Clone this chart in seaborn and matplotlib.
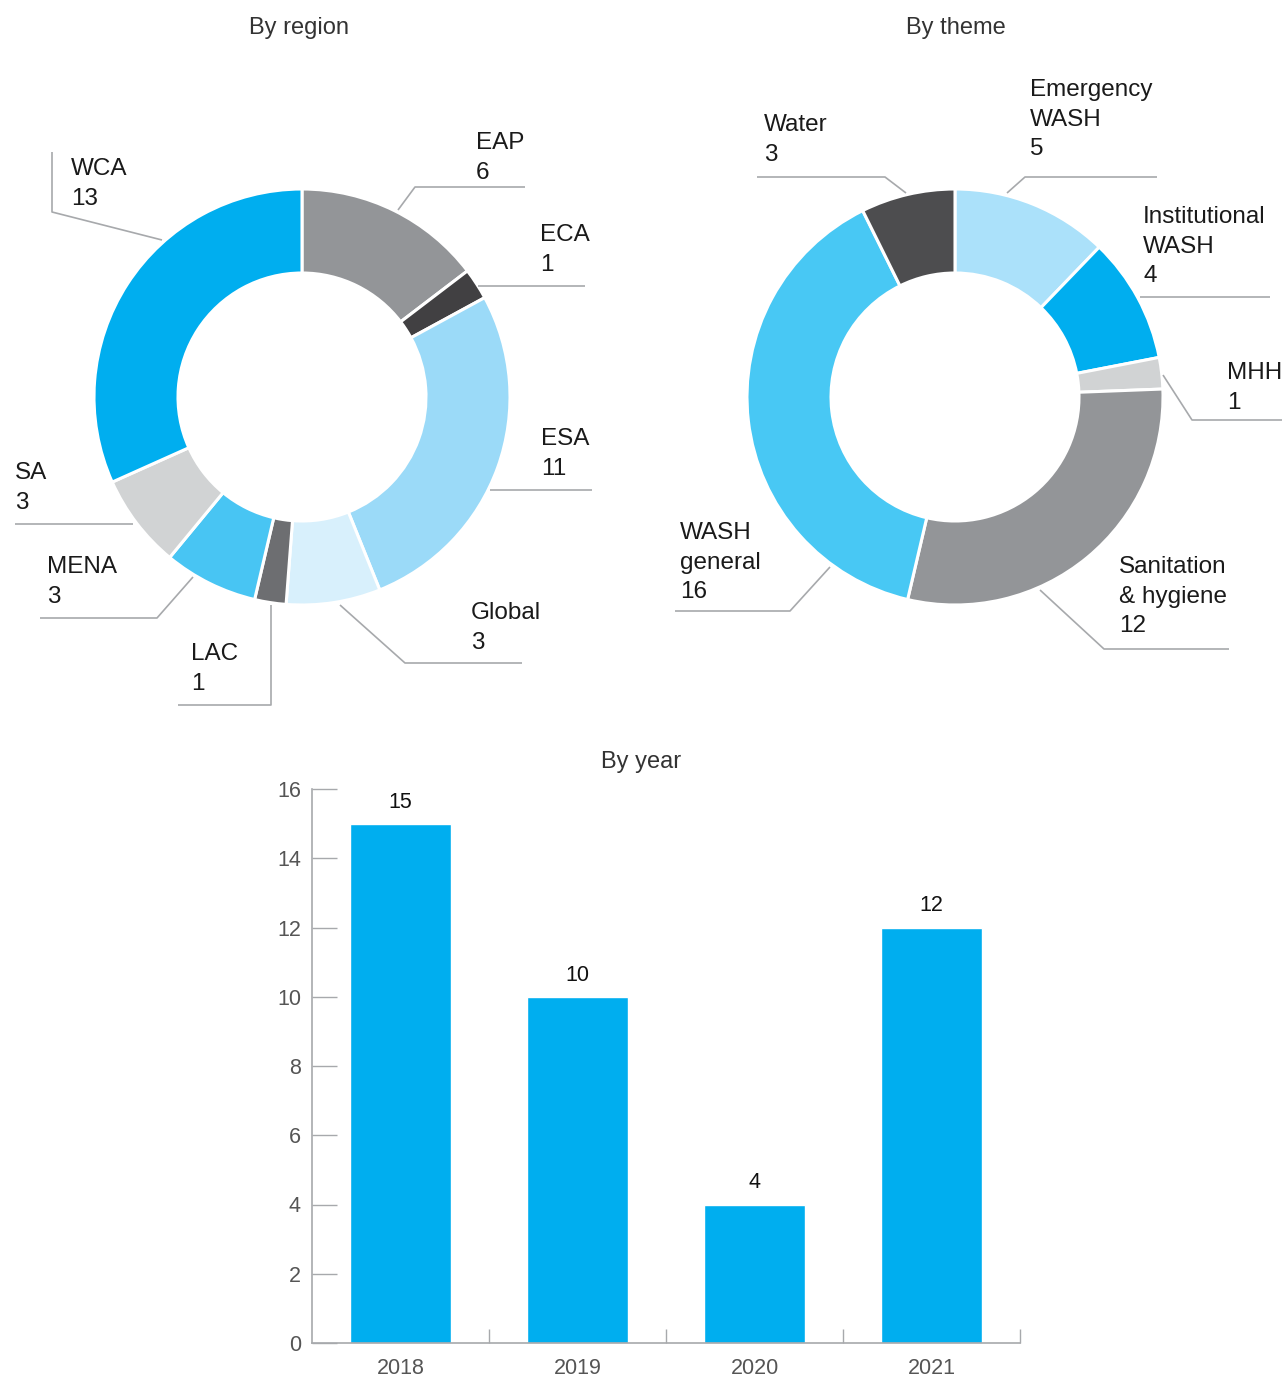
import numpy as np
import pandas as pd
import matplotlib
matplotlib.use("Agg")
import matplotlib.pyplot as plt
import seaborn as sns

# data
region_names = ["EAP", "ECA", "ESA", "Global", "LAC", "MENA", "SA", "WCA"]
region_counts = [6, 1, 11, 3, 1, 3, 3, 13]
region_colors = ["#939598", "#414042", "#9bdaf8", "#d8f0fc", "#6d6e71", "#48c5f3", "#d1d3d4", "#00aeef"]

theme_names = [["Emergency", "WASH"], ["Institutional", "WASH"], ["MHH"],
               ["Sanitation", "& hygiene"], ["WASH", "general"], ["Water"]]
theme_counts = [5, 4, 1, 12, 16, 3]
theme_colors = ["#abe1fa", "#00aeef", "#d1d3d4", "#939598", "#48c8f4", "#4d4d4f"]

years = ["2018", "2019", "2020", "2021"]
year_counts = [15, 10, 4, 12]

W, H = 1284, 1382
LINE = "#a7a9ac"

sns.set_theme(style="white")
plt.rcParams['font.family'] = ['Liberation Sans', 'DejaVu Sans']

fig = plt.figure(figsize=(W / 100, H / 100), dpi=100)
ax = fig.add_axes([0, 0, 1, 1])

def Y(y):
    return H - y

# donuts (pixel coordinates)
R, w = 208, 84
ax.pie(region_counts, colors=region_colors, startangle=90, counterclock=False,
       center=(302, Y(397)), radius=R,
       wedgeprops=dict(width=w, edgecolor="white", linewidth=2.2))
ax.pie(theme_counts, colors=theme_colors, startangle=90, counterclock=False,
       center=(955, Y(397)), radius=R,
       wedgeprops=dict(width=w, edgecolor="white", linewidth=2.2))

# leader lines + labels: (text lines, text x, first line y, polyline points)
region_labels = [
    (["WCA"], 71, 169, [(162, 240), (52, 212), (52, 152)]),
    (["EAP"], 476, 143, [(398, 210), (415, 187), (525, 187)]),
    (["ECA"], 540, 235, [(478, 286), (585, 286)]),
    (["ESA"], 541, 439, [(490, 490), (592, 490)]),
    (["Global"], 471, 613, [(340, 605), (405, 663), (522, 663)]),
    (["LAC"], 191, 654, [(271, 605), (271, 705), (178, 705)]),
    (["MENA"], 47, 567, [(193, 577), (157, 618), (40, 618)]),
    (["SA"], 15, 473, [(133, 524), (15, 524)]),
]
region_val = dict(zip(region_names, region_counts))

theme_labels = [
    (["Water"], 764, 125, [(906, 193), (885, 177), (757, 177)]),
    (["Emergency", "WASH"], 1030, 90, [(1007, 193), (1025, 177), (1157, 177)]),
    (["Institutional", "WASH"], 1143, 217, [(1140, 297), (1270, 297)]),
    (["MHH"], 1227, 373, [(1163, 375), (1192, 420), (1282, 420)]),
    (["Sanitation", "& hygiene"], 1119, 567, [(1040, 590), (1104, 649), (1229, 649)]),
    (["WASH", "general"], 680, 533, [(830, 567), (790, 611), (675, 611)]),
]
theme_val = {" ".join(n): c for n, c in zip(theme_names, theme_counts)}

def draw_label(lines, value, tx, ty, pts):
    xs = [p[0] for p in pts]
    ys = [Y(p[1]) for p in pts]
    ax.plot(xs, ys, color=LINE, lw=1.2, solid_capstyle="butt")
    for i, t in enumerate(lines + [str(value)]):
        ax.text(tx, Y(ty + 29.5 * i), t, fontsize=17.5, color="#1a1a1a",
                ha="left", va="center")

for lines, tx, ty, pts in region_labels:
    draw_label(lines, region_val[lines[0]], tx, ty, pts)
for lines, tx, ty, pts in theme_labels:
    draw_label(lines, theme_val[" ".join(lines)], tx, ty, pts)

ax.text(299, Y(28), "By region", fontsize=17, color="#333333", ha="center", va="center")
ax.text(956, Y(28), "By theme", fontsize=17, color="#333333", ha="center", va="center")
ax.text(641, Y(762), "By year", fontsize=17, color="#333333", ha="center", va="center")

ax.set_xlim(0, W)
ax.set_ylim(0, H)
ax.set_aspect("auto")
ax.axis("off")

# bar chart
axb = fig.add_axes([312 / W, (H - 1343) / H, (1020 - 312) / W, (1343 - 789) / H])
df = pd.DataFrame({"year": years, "count": year_counts})
sns.barplot(data=df, x="year", y="count", color="#00aeef", width=0.565,
            saturation=1, ax=axb)
for c in axb.containers:
    axb.bar_label(c, padding=8, fontsize=15.5, color="#111111")
axb.set_xlim(-0.5, 3.5)
axb.set_ylim(0, 16)
axb.set_yticks(range(0, 17, 2))
axb.set_xlabel("")
axb.set_ylabel("")
for s in ["top", "right"]:
    axb.spines[s].set_visible(False)
for s in ["left", "bottom"]:
    axb.spines[s].set_color(LINE)
    axb.spines[s].set_linewidth(1.2)
axb.tick_params(axis="y", direction="in", length=18, width=1, color=LINE,
                labelsize=15.5, labelcolor="#555555", pad=8, left=True)
axb.tick_params(axis="x", which="major", length=0, labelsize=15.5,
                labelcolor="#555555", pad=11)
axb.set_xticks([0.5, 1.5, 2.5, 3.5], minor=True)
axb.tick_params(axis="x", which="minor", direction="in", length=10, width=1,
                color=LINE, bottom=True)

fig.savefig("out.png", dpi=100)
